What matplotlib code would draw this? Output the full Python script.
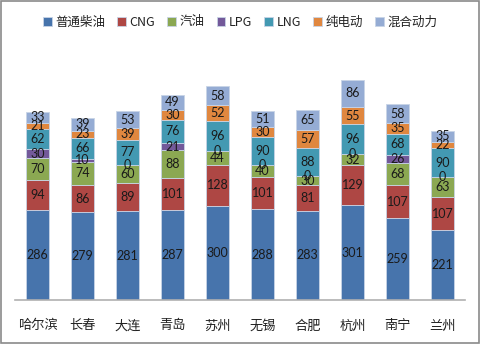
import matplotlib
matplotlib.use("Agg")
import matplotlib.pyplot as plt
from matplotlib.patches import Rectangle
import numpy as np

plt.rcParams['font.family'] = ['Noto Sans CJK SC', 'DejaVu Sans']

cities = ["哈尔滨", "长春", "大连", "青岛", "苏州", "无锡", "合肥", "杭州", "南宁", "兰州"]
series_names = ["普通柴油", "CNG", "汽油", "LPG", "LNG", "纯电动", "混合动力"]
diesel = [286, 279, 281, 287, 300, 288, 283, 301, 259, 221]
cng = [94, 86, 89, 101, 128, 101, 81, 129, 107, 107]
gasoline = [70, 74, 60, 88, 44, 40, 30, 32, 68, 63]
lpg = [30, 10, 0, 21, 0, 0, 0, 0, 26, 0]
lng = [62, 66, 77, 76, 96, 90, 88, 96, 68, 90]
electric = [21, 23, 39, 30, 52, 30, 57, 55, 35, 22]
hybrid = [33, 39, 53, 49, 58, 51, 65, 86, 58, 35]
series = [diesel, cng, gasoline, lpg, lng, electric, hybrid]
colors = ["#4774AC", "#AE4744", "#8BA852", "#73599A", "#4399B2", "#E0873F", "#95ACD4"]

fig = plt.figure(figsize=(4.8, 3.44), dpi=100)
ax = fig.add_axes([15/480, 44/344, 450/480, 252/344])

x = np.arange(len(cities))
bottom = np.zeros(len(cities))
for name, vals, c in zip(series_names, series, colors):
    vals = np.array(vals, dtype=float)
    ax.bar(x, vals, 0.51, bottom=bottom, color=c, label=name,
           edgecolor="#c8d4e6", linewidth=0.6)
    for xi, b, v in zip(x, bottom, vals):
        ax.text(xi, b + v / 2, f"{int(v)}", ha="center", va="center",
                fontsize=9, color="#1a1a1a", family=["Lato", "DejaVu Sans"])
    bottom += vals

ax.set_xlim(-0.5, 9.5)
ax.set_ylim(0, 800)
for s in ["top", "right", "left"]:
    ax.spines[s].set_visible(False)
ax.spines["bottom"].set_color("#b0b0b0")
ax.spines["bottom"].set_linewidth(1.2)
ax.set_yticks([])
ax.set_xticks(x)
ax.set_xticklabels(cities, fontsize=9.5, color="#222222")
ax.tick_params(axis="x", length=0, pad=14)

leg = fig.legend(loc="center", bbox_to_anchor=(0.5, 1 - 22/344), ncol=7,
                 frameon=False, fontsize=9, handlelength=0.7, handleheight=0.7,
                 handletextpad=0.3, columnspacing=0.95, borderaxespad=0)
for t in leg.get_texts():
    t.set_color("#222222")

fig.patches.append(Rectangle((0.002, 0.003), 0.995, 0.994, transform=fig.transFigure,
                             fill=False, edgecolor="#8a8a8a", linewidth=1.2))

fig.savefig("out.png", dpi=100)
